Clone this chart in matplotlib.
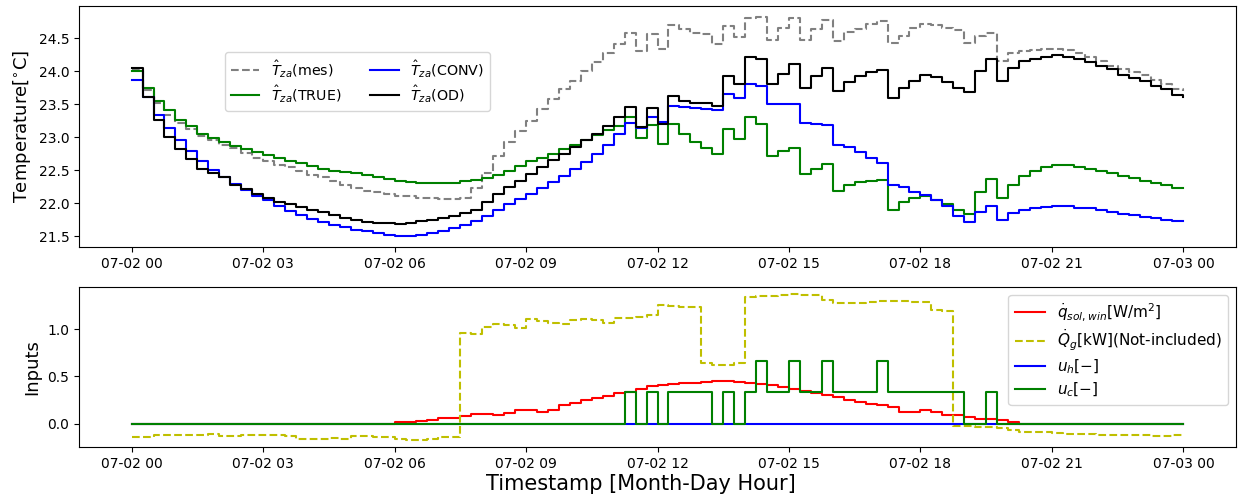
import numpy as np
import pandas as pd
import matplotlib
matplotlib.use("Agg")
import matplotlib.pyplot as plt
import matplotlib.dates as mdates

# 15-minute samples over one day
timestamps = pd.date_range("2021-07-02 00:00", "2021-07-03 00:00", freq="15min")

# Zone air temperature [degC]
t_mes = [
    24.03, 23.72, 23.51, 23.34, 23.22, 23.12, 23.02, 22.95, 22.88, 22.84,
    22.76, 22.69, 22.63, 22.58, 22.54, 22.49, 22.43, 22.39, 22.33, 22.27,
    22.23, 22.19, 22.16, 22.13, 22.11, 22.10, 22.08, 22.07, 22.06, 22.06,
    22.07, 22.23, 22.46, 22.71, 22.92, 23.09, 23.25, 23.42, 23.57, 23.73,
    23.85, 24.00, 24.14, 24.28, 24.41, 24.57, 24.31, 24.56, 24.33, 24.70,
    24.64, 24.57, 24.56, 24.41, 24.69, 24.52, 24.81, 24.82, 24.47, 24.66,
    24.80, 24.47, 24.64, 24.77, 24.46, 24.59, 24.64, 24.71, 24.76, 24.42,
    24.53, 24.65, 24.72, 24.70, 24.66, 24.62, 24.42, 24.53, 24.58, 24.16,
    24.27, 24.31, 24.32, 24.33, 24.33, 24.32, 24.27, 24.22, 24.16, 24.08,
    24.03, 23.99, 23.94, 23.86, 23.81, 23.73, 23.70,
]
t_true = [
    24.00, 23.75, 23.55, 23.41, 23.26, 23.17, 23.05, 22.99, 22.93, 22.87,
    22.82, 22.77, 22.73, 22.68, 22.64, 22.60, 22.56, 22.52, 22.49, 22.47,
    22.45, 22.42, 22.39, 22.36, 22.33, 22.32, 22.31, 22.30, 22.30, 22.31,
    22.33, 22.35, 22.38, 22.43, 22.49, 22.56, 22.63, 22.69, 22.75, 22.82,
    22.88, 22.95, 23.03, 23.11, 23.17, 23.30, 22.98, 23.18, 22.90, 23.20,
    23.04, 22.92, 22.84, 22.74, 23.12, 22.97, 23.30, 23.20, 22.71, 22.79,
    22.84, 22.44, 22.51, 22.59, 22.19, 22.28, 22.32, 22.33, 22.35, 21.90,
    22.02, 22.07, 22.10, 22.05, 21.98, 21.90, 21.84, 22.16, 22.36, 22.07,
    22.27, 22.41, 22.48, 22.54, 22.57, 22.57, 22.54, 22.51, 22.48, 22.45,
    22.41, 22.38, 22.33, 22.31, 22.27, 22.23, 22.23,
]
t_conv = [
    23.87, 23.60, 23.34, 23.13, 22.95, 22.79, 22.64, 22.50, 22.40, 22.29,
    22.20, 22.11, 22.04, 21.95, 21.88, 21.82, 21.76, 21.71, 21.67, 21.63,
    21.59, 21.57, 21.54, 21.52, 21.50, 21.50, 21.52, 21.55, 21.58, 21.62,
    21.67, 21.73, 21.80, 21.89, 21.98, 22.06, 22.14, 22.23, 22.32, 22.41,
    22.51, 22.62, 22.75, 22.88, 23.04, 23.22, 23.13, 23.31, 23.23, 23.47,
    23.46, 23.44, 23.42, 23.41, 23.65, 23.59, 23.81, 23.78, 23.50, 23.50,
    23.50, 23.22, 23.20, 23.18, 22.88, 22.85, 22.78, 22.68, 22.61, 22.27,
    22.24, 22.17, 22.12, 22.04, 21.95, 21.81, 21.72, 21.86, 21.96, 21.75,
    21.85, 21.89, 21.92, 21.94, 21.96, 21.95, 21.93, 21.92, 21.89, 21.87,
    21.84, 21.82, 21.79, 21.77, 21.75, 21.73, 21.73,
]
t_od = [
    24.04, 23.60, 23.26, 23.00, 22.82, 22.66, 22.51, 22.46, 22.39, 22.28,
    22.22, 22.14, 22.08, 22.02, 21.98, 21.94, 21.90, 21.86, 21.82, 21.78,
    21.74, 21.72, 21.70, 21.70, 21.69, 21.70, 21.73, 21.74, 21.77, 21.80,
    21.85, 21.90, 22.01, 22.14, 22.24, 22.33, 22.44, 22.54, 22.65, 22.74,
    22.85, 22.95, 23.04, 23.17, 23.30, 23.46, 23.15, 23.44, 23.20, 23.62,
    23.55, 23.52, 23.51, 23.47, 23.93, 23.81, 24.21, 24.18, 23.80, 23.96,
    24.11, 23.75, 23.93, 24.05, 23.70, 23.84, 23.93, 23.99, 24.01, 23.59,
    23.74, 23.85, 23.94, 23.91, 23.83, 23.75, 23.69, 24.00, 24.19, 23.85,
    24.05, 24.15, 24.19, 24.22, 24.24, 24.22, 24.18, 24.13, 24.08, 24.03,
    23.94, 23.90, 23.85, 23.78, 23.73, 23.64, 23.60,
]

# Inputs
q_sol_win = [
    0.00, 0.00, 0.00, 0.00, 0.00, 0.00, 0.00, 0.00, 0.00, 0.00,
    0.00, 0.00, 0.00, 0.00, 0.00, 0.00, 0.00, 0.00, 0.00, 0.00,
    0.00, 0.00, 0.00, 0.00, 0.02, 0.02, 0.03, 0.04, 0.06, 0.06,
    0.08, 0.10, 0.10, 0.09, 0.11, 0.14, 0.14, 0.12, 0.15, 0.20,
    0.22, 0.25, 0.27, 0.29, 0.32, 0.34, 0.37, 0.40, 0.41, 0.42,
    0.43, 0.43, 0.44, 0.45, 0.45, 0.44, 0.43, 0.425, 0.41, 0.39,
    0.37, 0.35, 0.33, 0.30, 0.28, 0.25, 0.23, 0.21, 0.195, 0.18,
    0.12, 0.12, 0.14, 0.12, 0.09, 0.09, 0.07, 0.05, 0.05, 0.035,
    0.02, 0.00, 0.00, 0.00, 0.00, 0.00, 0.00, 0.00, 0.00, 0.00,
    0.00, 0.00, 0.00, 0.00, 0.00, 0.00, 0.00,
]
q_g = [
    -0.14, -0.14, -0.12, -0.12, -0.12, -0.12, -0.12, -0.11, -0.13, -0.13,
    -0.12, -0.12, -0.12, -0.12, -0.13, -0.16, -0.16, -0.16, -0.15, -0.16,
    -0.13, -0.13, -0.14, -0.14, -0.16, -0.17, -0.17, -0.16, -0.14, -0.14,
    0.96, 0.95, 1.02, 1.05, 1.04, 1.01, 1.11, 1.09, 1.07, 1.06,
    1.10, 1.11, 1.10, 1.07, 1.12, 1.12, 1.13, 1.15, 1.26, 1.25,
    1.23, 1.23, 0.64, 0.62, 0.62, 0.64, 1.34, 1.35, 1.35, 1.36,
    1.37, 1.36, 1.36, 1.31, 1.28, 1.28, 1.28, 1.29, 1.30, 1.30,
    1.30, 1.29, 1.29, 1.20, 1.19, -0.02, -0.02, -0.04, -0.04, -0.05,
    -0.07, -0.09, -0.09, -0.09, -0.10, -0.11, -0.11, -0.11, -0.12, -0.12,
    -0.12, -0.12, -0.12, -0.13, -0.13, -0.12, -0.12,
]
u_h = [0.0] * 97
u_c = [
    0, 0, 0, 0, 0, 0, 0, 0, 0, 0,
    0, 0, 0, 0, 0, 0, 0, 0, 0, 0,
    0, 0, 0, 0, 0, 0, 0, 0, 0, 0,
    0, 0, 0, 0, 0, 0, 0, 0, 0, 0,
    0, 0, 0, 0, 0, 0.333, 0, 0.333, 0, 0.333,
    0.333, 0.333, 0.333, 0, 0.333, 0, 0.333, 0.667, 0.333, 0.333,
    0.667, 0.333, 0.333, 0.667, 0.333, 0.333, 0.333, 0.333, 0.667, 0.333,
    0.333, 0.333, 0.333, 0.333, 0.333, 0.333, 0, 0, 0.333, 0,
    0, 0, 0, 0, 0, 0, 0, 0, 0, 0,
    0, 0, 0, 0, 0, 0, 0,
]

W, H = 1238, 501
fig = plt.figure(figsize=(W / 100, H / 100), dpi=100)
ax1 = fig.add_axes([79 / W, 1 - 247 / H, (1236 - 79) / W, (247 - 6) / H])
ax2 = fig.add_axes([79 / W, 1 - 447 / H, (1236 - 79) / W, (447 - 287) / H])

lw = 1.5
ax1.plot(timestamps, t_mes, color="grey", ls="--", lw=lw, drawstyle="steps-post",
         label=r"$\hat{T}_{za}$(mes)")
ax1.plot(timestamps, t_true, color="green", lw=lw, drawstyle="steps-post",
         label=r"$\hat{T}_{za}$(TRUE)")
ax1.plot(timestamps, t_conv, color="blue", lw=lw, drawstyle="steps-post",
         label=r"$\hat{T}_{za}$(CONV)")
ax1.plot(timestamps, t_od, color="black", lw=lw, drawstyle="steps-post",
         label=r"$\hat{T}_{za}$(OD)")
ax1.set_ylabel(r"Temperature[$^{\circ}$C]", fontsize=13)
ax1.legend(ncol=2, loc="upper left", bbox_to_anchor=(0.120, 0.838), fontsize=10.3,
           labelspacing=0.25)

ax2.plot(timestamps, q_sol_win, color="red", lw=lw, drawstyle="steps-post",
         label=r"$\dot{q}_{sol,win}$[W/m$^2$]")
ax2.plot(timestamps, q_g, color="y", ls="--", lw=lw, drawstyle="steps-post",
         label=r"$\dot{Q}_g$[kW](Not-included)")
ax2.plot(timestamps, u_h, color="blue", lw=lw, drawstyle="steps-post",
         label=r"$u_h[-]$")
ax2.plot(timestamps, u_c, color="green", lw=lw, drawstyle="steps-post",
         label=r"$u_c[-]$")
ax2.set_ylabel("Inputs", fontsize=13)
ax2.legend(loc="upper right", fontsize=11, labelspacing=0.3)
ax2.set_xlabel("Timestamp [Month-Day Hour]", fontsize=15)
ax2.xaxis.set_label_coords((641 - 79) / (1236 - 79), -0.17)

for ax in (ax1, ax2):
    ax.xaxis.set_major_locator(mdates.HourLocator(byhour=range(0, 24, 3)))
    ax.xaxis.set_major_formatter(mdates.DateFormatter("%m-%d %H"))
    ax.tick_params(labelsize=10)

fig.savefig("out.png", dpi=100)
